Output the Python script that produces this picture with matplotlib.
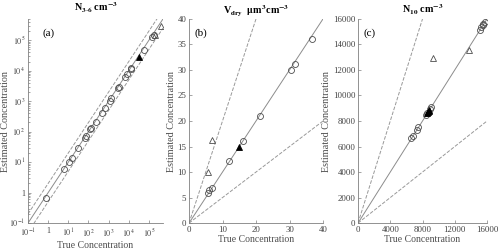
import numpy as np
import matplotlib
matplotlib.use("Agg")
import matplotlib.pyplot as plt
from matplotlib.ticker import FixedLocator, FixedFormatter, LogLocator, NullFormatter

plt.rcParams['font.family'] = ['Liberation Serif', 'DejaVu Serif']
plt.rcParams['mathtext.fontset'] = 'stix'

# panel (a) N3-6, log axes
a_circ_x = [0.75, 6, 11, 16, 31, 66, 79, 126, 141, 234, 450, 650, 1150, 1380, 2950, 3100,
            6300, 8300, 12600, 13500, 55000, 1.4e5, 1.7e5]
a_circ_y = [0.65, 5.8, 10, 14, 30, 62, 72, 118, 130, 200, 410, 600, 1050, 1250, 2700, 2900,
            6000, 7600, 11500, 12000, 47000, 1.3e5, 1.5e5]
a_tri_x = [1.9e5, 4.0e5]
a_tri_y = [1.5e5, 2.9e5]
a_fill_x = [3.1e4]
a_fill_y = [2.9e4]

# panel (b) Vdry
b_circ_x = [5.8, 5.9, 6.8, 12.0, 16.2, 21.3, 30.3, 31.6, 36.6]
b_circ_y = [5.9, 6.5, 6.9, 12.1, 16.0, 21.0, 29.9, 31.1, 36.1]
b_tri_x = [5.7, 7.0]
b_tri_y = [10.1, 16.2]
b_fill_x = [14.9]
b_fill_y = [15.0]

# panel (c) N10
c_circ_x = [6600, 6800, 7300, 7500, 8450, 8600, 8900, 9050, 15100, 15300, 15450, 15550, 15700]
c_circ_y = [6650, 6800, 7300, 7550, 8450, 8650, 8950, 9100, 15150, 15350, 15500, 15600, 15750]
c_tri_x = [9300, 13800]
c_tri_y = [12900, 13600]
c_fill_x = [8550, 8650, 8750, 8800]
c_fill_y = [8600, 8700, 8800, 8850]

line_col = '0.55'
dash_col = '0.6'
mk_col = '0.3'


def style_axes(ax):
    for s in ['top', 'right']:
        ax.spines[s].set_visible(False)
    for s in ['left', 'bottom']:
        ax.spines[s].set_color('0.5')
        ax.spines[s].set_linewidth(0.6)
    ax.tick_params(which='both', direction='in', colors='0.5', labelcolor='0.25',
                   labelsize=6.3, width=0.5, length=2.5, pad=2)
    ax.tick_params(which='minor', length=1.5)
    ax.set_xlabel('True Concentration', fontsize=7, color='0.3', labelpad=1)
    ax.set_ylabel('Estimated Concentration', fontsize=7.3, color='0.3', labelpad=1)


def draw_points(ax, cx, cy, tx, ty, fx, fy):
    ax.plot(cx, cy, 'o', ms=4.3, mfc='none', mec=mk_col, mew=0.6, zorder=3)
    ax.plot(tx, ty, '^', ms=5, mfc='none', mec=mk_col, mew=0.6, zorder=3)
    ax.plot(fx, fy, '^', ms=5, mfc='black', mec='black', mew=0.6, zorder=4)


fig = plt.figure(figsize=(5.0, 2.49), dpi=100)
bottom, height = 0.104, 0.82

# (a)
ax = fig.add_axes([0.056, bottom, 0.27, height])
lo, hi = 0.1, 5e5
xx = np.array([lo, hi])
ax.plot(xx, xx, '-', color=line_col, lw=0.7)
ax.plot(xx, xx * 2, '--', color=dash_col, lw=0.7)
ax.plot(xx, xx / 2, '--', color=dash_col, lw=0.7)
draw_points(ax, a_circ_x, a_circ_y, a_tri_x, a_tri_y, a_fill_x, a_fill_y)
ax.set_xscale('log')
ax.set_yscale('log')
ax.set_xlim(lo, hi)
ax.set_ylim(lo, hi)
dec = [0.1, 1, 10, 100, 1e3, 1e4, 1e5]
dec_lab = ['$10^{-1}$', '1', '$10^{1}$', '$10^{2}$', '$10^{3}$', '$10^{4}$', '$10^{5}$']
for axis in [ax.xaxis, ax.yaxis]:
    axis.set_major_locator(FixedLocator(dec))
    axis.set_major_formatter(FixedFormatter(dec_lab))
    axis.set_minor_locator(LogLocator(base=10, subs=np.arange(2, 10)))
    axis.set_minor_formatter(NullFormatter())
style_axes(ax)
ax.tick_params(labelsize=5.8)
ax.tick_params(axis='x', pad=3)
ax.yaxis.set_label_coords(-0.135, 0.5)
ax.set_title('N$_{\\mathbf{3\\text{-}6}}$ cm$^{\\mathbf{-3}}$', fontsize=7.3, fontweight='bold', pad=5)
ax.text(0.11, 0.92, '(a)', transform=ax.transAxes, fontsize=8)

# (b)
ax = fig.add_axes([0.378, bottom, 0.268, height])
xx = np.array([0, 40])
ax.plot(xx, xx, '-', color=line_col, lw=0.7)
ax.plot(xx, xx * 2, '--', color=dash_col, lw=0.7)
ax.plot(xx, xx / 2, '--', color=dash_col, lw=0.7)
draw_points(ax, b_circ_x, b_circ_y, b_tri_x, b_tri_y, b_fill_x, b_fill_y)
ax.set_xlim(0, 40)
ax.set_ylim(0, 40)
ax.set_xticks([0, 10, 20, 30, 40])
ax.set_yticks(range(0, 41, 5))
style_axes(ax)
ax.set_title('V$_{\\mathbf{dry}}$  $\\mathbf{\\mu}$m$^{\\mathbf{3}}$cm$^{\\mathbf{-3}}$', fontsize=7.3,
             fontweight='bold', pad=4)
ax.text(0.04, 0.92, '(b)', transform=ax.transAxes, fontsize=8)

# (c)
ax = fig.add_axes([0.716, bottom, 0.258, height])
xx = np.array([0, 16000])
ax.plot(xx, xx, '-', color=line_col, lw=0.7)
ax.plot(xx, xx * 2, '--', color=dash_col, lw=0.7)
ax.plot(xx, xx / 2, '--', color=dash_col, lw=0.7)
draw_points(ax, c_circ_x, c_circ_y, c_tri_x, c_tri_y, c_fill_x, c_fill_y)
ax.set_xlim(0, 16000)
ax.set_ylim(0, 16000)
ax.set_xticks([0, 4000, 8000, 12000, 16000])
ax.set_yticks(range(0, 16001, 2000))
style_axes(ax)
ax.set_title('N$_{\\mathbf{10}}$ cm$^{\\mathbf{-3}}$', fontsize=7.3, fontweight='bold', pad=4)
ax.text(0.04, 0.92, '(c)', transform=ax.transAxes, fontsize=8)

fig.savefig('out.png', dpi=100)
